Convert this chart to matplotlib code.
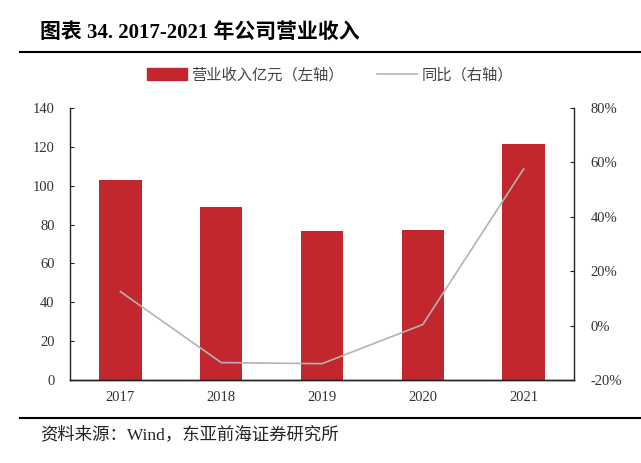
import matplotlib
matplotlib.use("Agg")
from matplotlib import pyplot as plt
from matplotlib.lines import Line2D
from matplotlib.patches import Patch
from matplotlib.ticker import FuncFormatter

years = ["2017", "2018", "2019", "2020", "2021"]
revenue = [103.0, 89.3, 76.8, 77.2, 121.5]      # 营业收入 亿元
yoy = [12.5, -13.6, -14.0, 0.4, 57.6]           # 同比 %

BAR_COLOR = "#C1272D"
LINE_COLOR = "#B3B3B3"
FONT = ["Liberation Serif", "Noto Sans CJK SC"]
plt.rcParams["font.family"] = FONT


def main():
    fig = plt.figure(figsize=(6.41, 4.63), dpi=100)
    ax1 = fig.add_axes([70 / 641, 1 - 380 / 463, 504 / 641, 272 / 463])
    ax2 = ax1.twinx()

    xs = list(range(len(years)))
    ax1.bar(xs, revenue, width=0.42, color=BAR_COLOR, zorder=2)
    ax2.plot(xs, yoy, color=LINE_COLOR, linewidth=1.2, zorder=3)

    ax1.set_xlim(-0.5, len(years) - 0.5)
    ax1.set_ylim(0, 140)
    ax1.set_yticks(range(0, 141, 20))
    ax2.set_ylim(-20, 80)
    ax2.set_yticks(range(-20, 81, 20))
    ax2.yaxis.set_major_formatter(FuncFormatter(lambda v, p: f"{v:.0f}%"))
    ax1.set_xticks(xs)
    ax1.set_xticklabels(years)

    for ax in (ax1, ax2):
        ax.spines["top"].set_visible(False)
        for s in ("left", "right", "bottom"):
            ax.spines[s].set_linewidth(1.0)
            ax.spines[s].set_color("#222222")
        ax.tick_params(axis="y", direction="in", length=3, labelsize=10.5,
                       colors="#222222", labelcolor="#333333")
        ax.tick_params(axis="x", length=0, labelsize=10.5, pad=8, labelcolor="#333333")
    ax1.tick_params(axis="y", pad=11)
    ax2.tick_params(axis="y", pad=12)
    ax1.spines["right"].set_visible(False)
    ax2.spines["left"].set_visible(False)

    # legend
    handles = [Patch(color=BAR_COLOR), Line2D([], [], color=LINE_COLOR, linewidth=1.2)]
    labels = ["营业收入亿元（左轴）", "同比（右轴）"]
    fig.legend(handles, labels, loc="center", bbox_to_anchor=(330 / 641, 1 - 75 / 463),
               ncol=2, frameon=False, fontsize=11, handlelength=2.6, handleheight=0.8,
               columnspacing=2.2, handletextpad=0.3, labelcolor="#444444")

    # title and rules
    fig.text(40 / 641, 1 - 33 / 463, "图表 34. 2017-2021 年公司营业收入", fontsize=15,
             fontweight="bold", va="center", ha="left")
    fig.add_artist(Line2D([20 / 641, 640 / 641], [1 - 52 / 463] * 2, color="black", linewidth=1.5))
    fig.add_artist(Line2D([20 / 641, 640 / 641], [1 - 418 / 463] * 2, color="black", linewidth=1.5))
    fig.text(40 / 641, 1 - 435 / 463, "资料来源：Wind，东亚前海证券研究所", fontsize=12.5,
             va="center", ha="left", color="#222222")

    fig.savefig("out.png", dpi=100)


if __name__ == '__main__':
    main()
